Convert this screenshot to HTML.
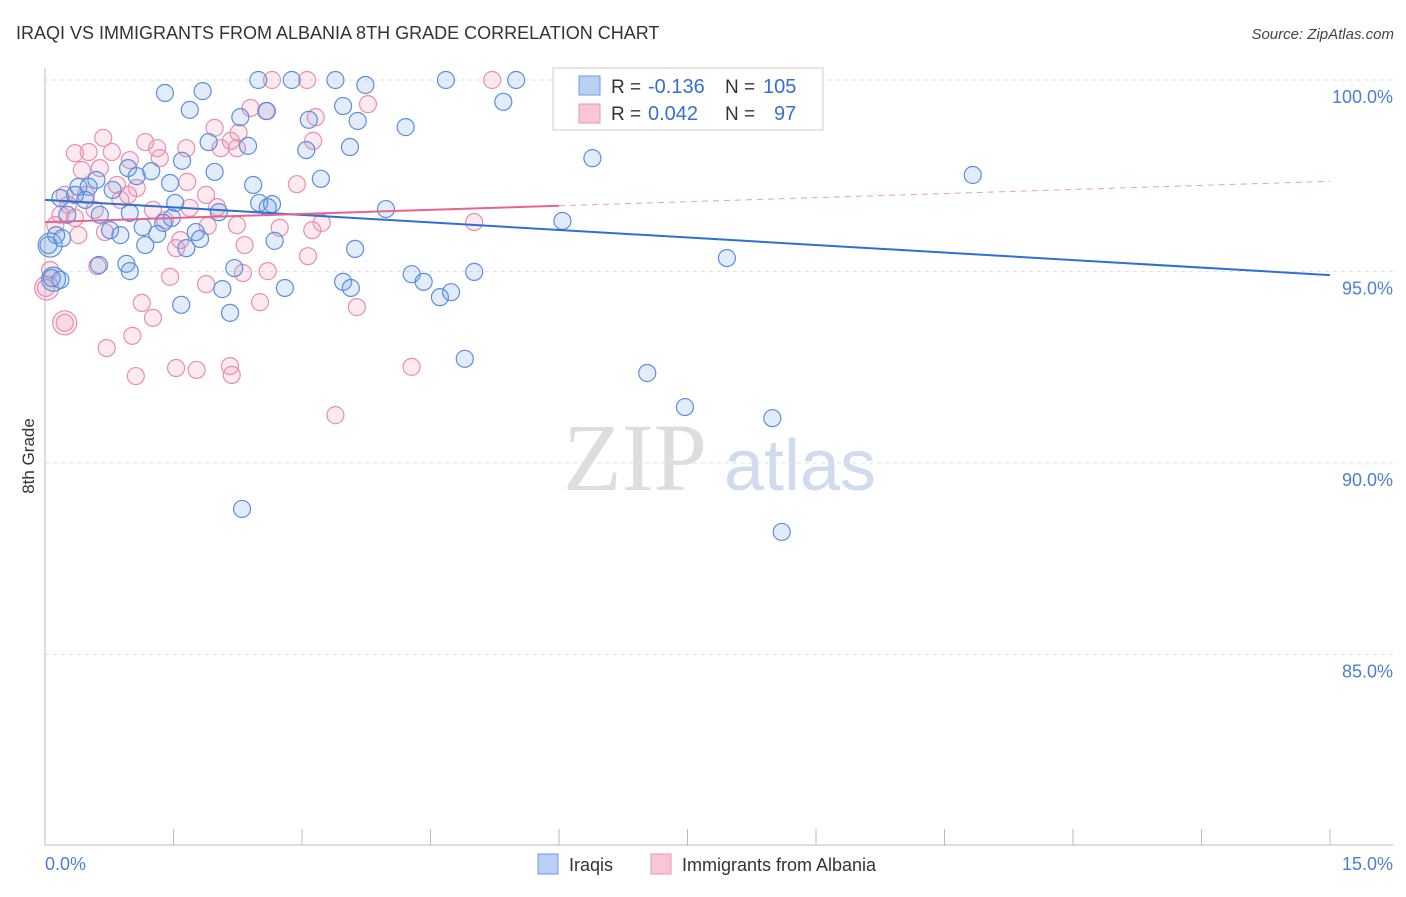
<!DOCTYPE html>
<html><head><meta charset="utf-8"><style>
body{margin:0;background:#fff;font-family:"Liberation Sans",sans-serif;}
</style></head><body>
<svg id="chart" width="1406" height="892" xmlns="http://www.w3.org/2000/svg" font-family="Liberation Sans, sans-serif">
<text x="16" y="39" font-size="18" fill="#333">IRAQI VS IMMIGRANTS FROM ALBANIA 8TH GRADE CORRELATION CHART</text>
<text x="1394" y="39" font-size="15" fill="#444" text-anchor="end" font-style="italic">Source: ZipAtlas.com</text>
<text transform="translate(34,456) rotate(-90)" font-size="17" fill="#333" text-anchor="middle">8th Grade</text>
<g>
<text x="635" y="490" font-size="96" fill="#ddd" font-family="Liberation Serif, serif" text-anchor="middle">ZIP</text>
<text x="800" y="490" font-size="72" fill="#cfdcf0" text-anchor="middle">atlas</text>
</g>
<g id="grid"></g><g id="axes"></g><g id="pts"></g><g id="trend"></g>
<g>
<rect x="553" y="68" width="270" height="62" fill="#fff" stroke="#ccc"/>
<rect x="579" y="76" width="21" height="19" fill="#b8d0f4" stroke="#6a9be0"/>
<rect x="579" y="104" width="21" height="19" fill="#f8c6d6" stroke="#e89ab3"/>
<text x="611" y="93" font-size="19" fill="#333">R =</text>
<text x="648" y="93" font-size="20" fill="#3470d0">-0.136</text>
<text x="725" y="93" font-size="19" fill="#333">N =</text>
<text x="763" y="93" font-size="20" fill="#3470d0">105</text>
<text x="611" y="120" font-size="19" fill="#333">R =</text>
<text x="648" y="120" font-size="20" fill="#3470d0">0.042</text>
<text x="725" y="120" font-size="19" fill="#333">N =</text>
<text x="774" y="120" font-size="20" fill="#3470d0">97</text>
</g>
<g>
<rect x="538" y="854" width="20" height="20" fill="#b8d0f4" stroke="#6a9be0"/>
<text x="569" y="871" font-size="18" fill="#333">Iraqis</text>
<rect x="651" y="854" width="20" height="20" fill="#f8c6d6" stroke="#e89ab3"/>
<text x="682" y="871" font-size="18" fill="#333">Immigrants from Albania</text>
</g>
</svg>
<script>
const yTicks=[100,95,90,85];
const xTickLabels=["0.0%","15.0%"];
const blueX=[2.49,2.88,3.39,4.68,5.50,7.76,1.40,1.84,3.74,5.35,1.69,3.48,2.28,3.08,3.65,4.21,2.59,1.91,2.37,3.05,3.56,6.39,10.83,1.60,1.98,1.24,3.22,0.60,2.43,1.46,0.39,0.51,0.35,0.18,0.47,0.79,0.97,1.07,2.50,2.65,2.60,3.98,1.52,2.03,0.26,0.64,0.99,0.76,0.88,0.13,0.20,1.14,1.31,1.48,1.76,1.81,1.65,1.17,1.38,2.68,3.62,6.04,7.96,0.04,0.08,0.18,0.63,0.95,0.99,2.21,2.07,2.80,3.48,3.57,4.28,4.42,4.74,4.61,5.01,1.59,2.16,4.90,7.03,7.47,8.49,2.30,8.60];
const blueY=[100,100,100,100,100,100,99.66,99.71,99.87,99.43,99.22,99.32,99.03,98.96,98.93,98.77,99.19,98.38,98.28,98.17,98.25,97.96,97.52,97.89,97.60,97.62,97.42,97.39,97.26,97.31,97.21,97.21,97.00,96.92,96.87,97.13,97.70,97.49,96.79,96.76,96.68,96.63,96.79,96.55,96.48,96.48,96.53,96.08,95.95,95.95,95.87,96.16,95.98,96.40,96.03,95.85,95.61,95.69,96.27,95.80,95.59,96.32,95.35,95.69,94.83,94.78,95.17,95.20,95.01,95.09,94.54,94.57,94.73,94.57,94.93,94.73,94.46,94.33,94.99,94.13,93.92,92.72,92.35,91.46,91.17,88.80,88.20];
const pinkX=[2.65,3.06,5.22,2.40,2.58,3.77,3.16,3.13,0.68,1.65,2.05,2.17,2.26,1.17,1.31,1.98,2.24,0.35,0.51,0.78,0.99,1.34,2.94,1.66,1.88,0.84,1.07,0.48,0.23,0.58,0.27,0.18,0.35,0.88,1.26,1.40,1.69,2.01,2.24,2.74,3.12,3.23,5.01,0.12,0.39,0.70,1.58,1.90,1.53,2.33,3.07,2.31,2.60,1.46,0.61,1.88,2.51,1.13,1.26,3.64,0.23,1.02,0.72,1.53,1.77,2.16,2.18,1.06,4.28,3.39,0.01,0.06,0.43,0.64,0.97];
const pinkY=[100,100,100,99.27,99.19,99.37,99.03,98.41,98.49,98.22,98.22,98.41,98.62,98.38,98.22,98.75,98.22,98.09,98.12,98.12,97.91,97.96,97.28,97.34,97.00,97.26,97.18,97.00,97.00,96.61,96.74,96.48,96.40,96.87,96.61,96.34,96.66,96.68,96.21,96.14,96.08,96.27,96.29,96.21,95.95,96.03,95.82,96.19,95.61,95.69,95.40,94.96,95.01,94.86,95.14,94.67,94.20,94.18,93.79,94.07,93.66,93.32,93.00,92.48,92.43,92.53,92.30,92.27,92.51,91.25,94.57,95.04,97.65,97.70,97.00];
const bigBlueX=[0.06,0.10];
const bigBlueY=[95.69,94.80];
const bigPinkX=[0.02,0.23];
const bigPinkY=[94.57,93.66];
const blueTrend=[96.87,-0.131];
const pinkTrend=[96.29,0.071];
const NS="http://www.w3.org/2000/svg";
const sx=v=>45+v/15*1285, sy=v=>80+(100-v)*38.3;
function mk(t,a,p){const e=document.createElementNS(NS,t);for(const k in a)e.setAttribute(k,a[k]);document.getElementById(p).appendChild(e);return e;}
yTicks.forEach(t=>{
 const g=mk('line',{x1:45,x2:1393,y1:sy(t),y2:sy(t),stroke:'#e2e2e2','stroke-dasharray':'4,4'},'grid');
 
 
 const l=mk('text',{x:1393,y:sy(t)+23,'font-size':18,fill:'#4a7fd6','text-anchor':'end'},'grid');
 l.textContent=t.toFixed(1)+'%';
 
 
});
const ax=mk('line',{x1:45,x2:45,y1:68,y2:845,stroke:'#bbb'},'axes');


const bx=mk('line',{x1:45,x2:1393,y1:845,y2:845,stroke:'#bbb'},'axes');


for(let i=0;i<=10;i++){const t=mk('line',{x1:sx(i*1.5),x2:sx(i*1.5),y1:829,y2:845,stroke:'#bbb'},'axes');
 
 }
xTickLabels.forEach((s,i)=>{const t=mk('text',{x:i?1393:45,y:870,'font-size':18,fill:'#4a7fd6','text-anchor':i?'end':'start'},'axes');t.textContent=s;
 
 });
function pts(X,Y,f,s,n,r){X.forEach((x,i)=>{const c=mk('circle',{cx:sx(x),cy:sy(Y[i]),r:r,fill:f,stroke:s,'stroke-width':1.2},'pts');
 
 });}
pts(bigPinkX,bigPinkY,'rgba(240,150,180,0.2)','#e88fae','albania-point',12);
pts(pinkX,pinkY,'rgba(240,150,180,0.2)','#e88fae','albania-point',8.5);
pts(bigBlueX,bigBlueY,'rgba(110,160,230,0.2)','#5b8fdd','iraqi-point',12);
pts(blueX,blueY,'rgba(110,160,230,0.2)','#5b8fdd','iraqi-point',8.5);
const bl=mk('line',{x1:sx(0),y1:sy(blueTrend[0]),x2:sx(15),y2:sy(blueTrend[0]+15*blueTrend[1]),stroke:'#2c6fd6','stroke-width':2},'trend');


const pl=mk('line',{x1:sx(0),y1:sy(pinkTrend[0]),x2:sx(6),y2:sy(pinkTrend[0]+6*pinkTrend[1]),stroke:'#e8648e','stroke-width':2},'trend');


const pd=mk('line',{x1:sx(6),y1:sy(pinkTrend[0]+6*pinkTrend[1]),x2:sx(15),y2:sy(pinkTrend[0]+15*pinkTrend[1]),stroke:'#e8a0b8','stroke-width':1,'stroke-dasharray':'6,5'},'trend');


</script>
</body></html>
